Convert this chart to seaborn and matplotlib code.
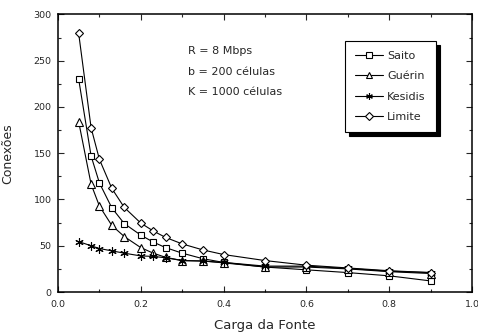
import numpy as np
import pandas as pd
import seaborn as sns
import matplotlib.pyplot as plt
from matplotlib.ticker import MultipleLocator

# carga da fonte (x) e numero de conexoes por metodo
carga = [0.05, 0.08, 0.10, 0.13, 0.16, 0.20, 0.23, 0.26, 0.30, 0.35, 0.40, 0.50, 0.60, 0.70, 0.80, 0.90]
saito = [230, 147, 118, 91, 74, 61.5, 54, 48, 42, 36, 32, 27, 24, 21, 17.5, 12]
guerin = [184, 116.5, 93, 72, 60, 48, 42, 37.5, 34, 33.5, 31.5, 27, 27, 25, 22, 20]
kesidis = [54.5, 50, 47, 44.5, 42, 39, 38.5, 37, 34, 33.5, 32, 28, 28, 25.5, 22.5, 21]
limite = [279.5, 177.5, 143.5, 112, 91.5, 74.5, 66, 59, 52, 45.5, 40.5, 34, 29, 26, 23, 21]

series = {"Saito": saito, "Guérin": guerin, "Kesidis": kesidis, "Limite": limite}
marcadores = {"Saito": "s", "Guérin": "^", "Kesidis": (6, 2, 0), "Limite": "D"}
tamanhos = {"Saito": 5, "Guérin": 5.5, "Kesidis": 6, "Limite": 4.5}

sns.set_style("ticks")
plt.rcParams['font.family'] = ['DejaVu Sans']

fig = plt.figure(figsize=(4.78, 3.34), dpi=100)
ax = fig.add_axes([0.1213, 0.1257, 0.8661, 0.831])

for nome, valores in series.items():
    df = pd.DataFrame({"carga": carga, "conexoes": valores})
    sns.lineplot(data=df, x="carga", y="conexoes", ax=ax, color="black", lw=0.8,
                 marker=marcadores[nome], markersize=tamanhos[nome],
                 markerfacecolor="white" if nome != "Kesidis" else "black",
                 markeredgecolor="black", markeredgewidth=0.8, label=nome)

ax.set_xlim(0, 1.0)
ax.set_ylim(0, 300)
ax.xaxis.set_major_locator(MultipleLocator(0.2))
ax.xaxis.set_minor_locator(MultipleLocator(0.1))
ax.yaxis.set_major_locator(MultipleLocator(50))
ax.yaxis.set_minor_locator(MultipleLocator(25))
ax.set_xticklabels([f"{v:.1f}" for v in ax.get_xticks()])
ax.tick_params(which="both", direction="in", top=True, right=True, labelsize=6.8, width=0.8)
ax.tick_params(which="major", length=4)
ax.tick_params(which="minor", length=2.5)
ax.tick_params(axis="x", pad=5.5)
ax.tick_params(axis="y", pad=4.5)
for s in ax.spines.values():
    s.set_linewidth(1.1)
    s.set_color("black")

ax.set_xlabel("Carga da Fonte", fontsize=9.5)
ax.set_ylabel("Conexões", fontsize=9)
ax.xaxis.set_label_coords(0.5, -0.097)
ax.yaxis.set_label_coords(-0.106, 0.5)

ax.text(0.314, 0.867, "R = 8 Mbps", transform=ax.transAxes, fontsize=8, va="center")
ax.text(0.314, 0.791, "b = 200 células", transform=ax.transAxes, fontsize=8, va="center")
ax.text(0.314, 0.719, "K = 1000 células", transform=ax.transAxes, fontsize=8, va="center")

leg = ax.legend(loc="upper left", bbox_to_anchor=(0.693, 0.906), borderaxespad=0,
                fontsize=8, frameon=True, fancybox=False, edgecolor="black", framealpha=1,
                handlelength=2.5, labelspacing=0.92, borderpad=0.95, handletextpad=0.36,
                markerscale=0.8,
                shadow={"ox": 3, "oy": -3, "color": "black", "alpha": 1})
leg.get_frame().set_linewidth(0.8)

fig.savefig("out.png", dpi=100)
